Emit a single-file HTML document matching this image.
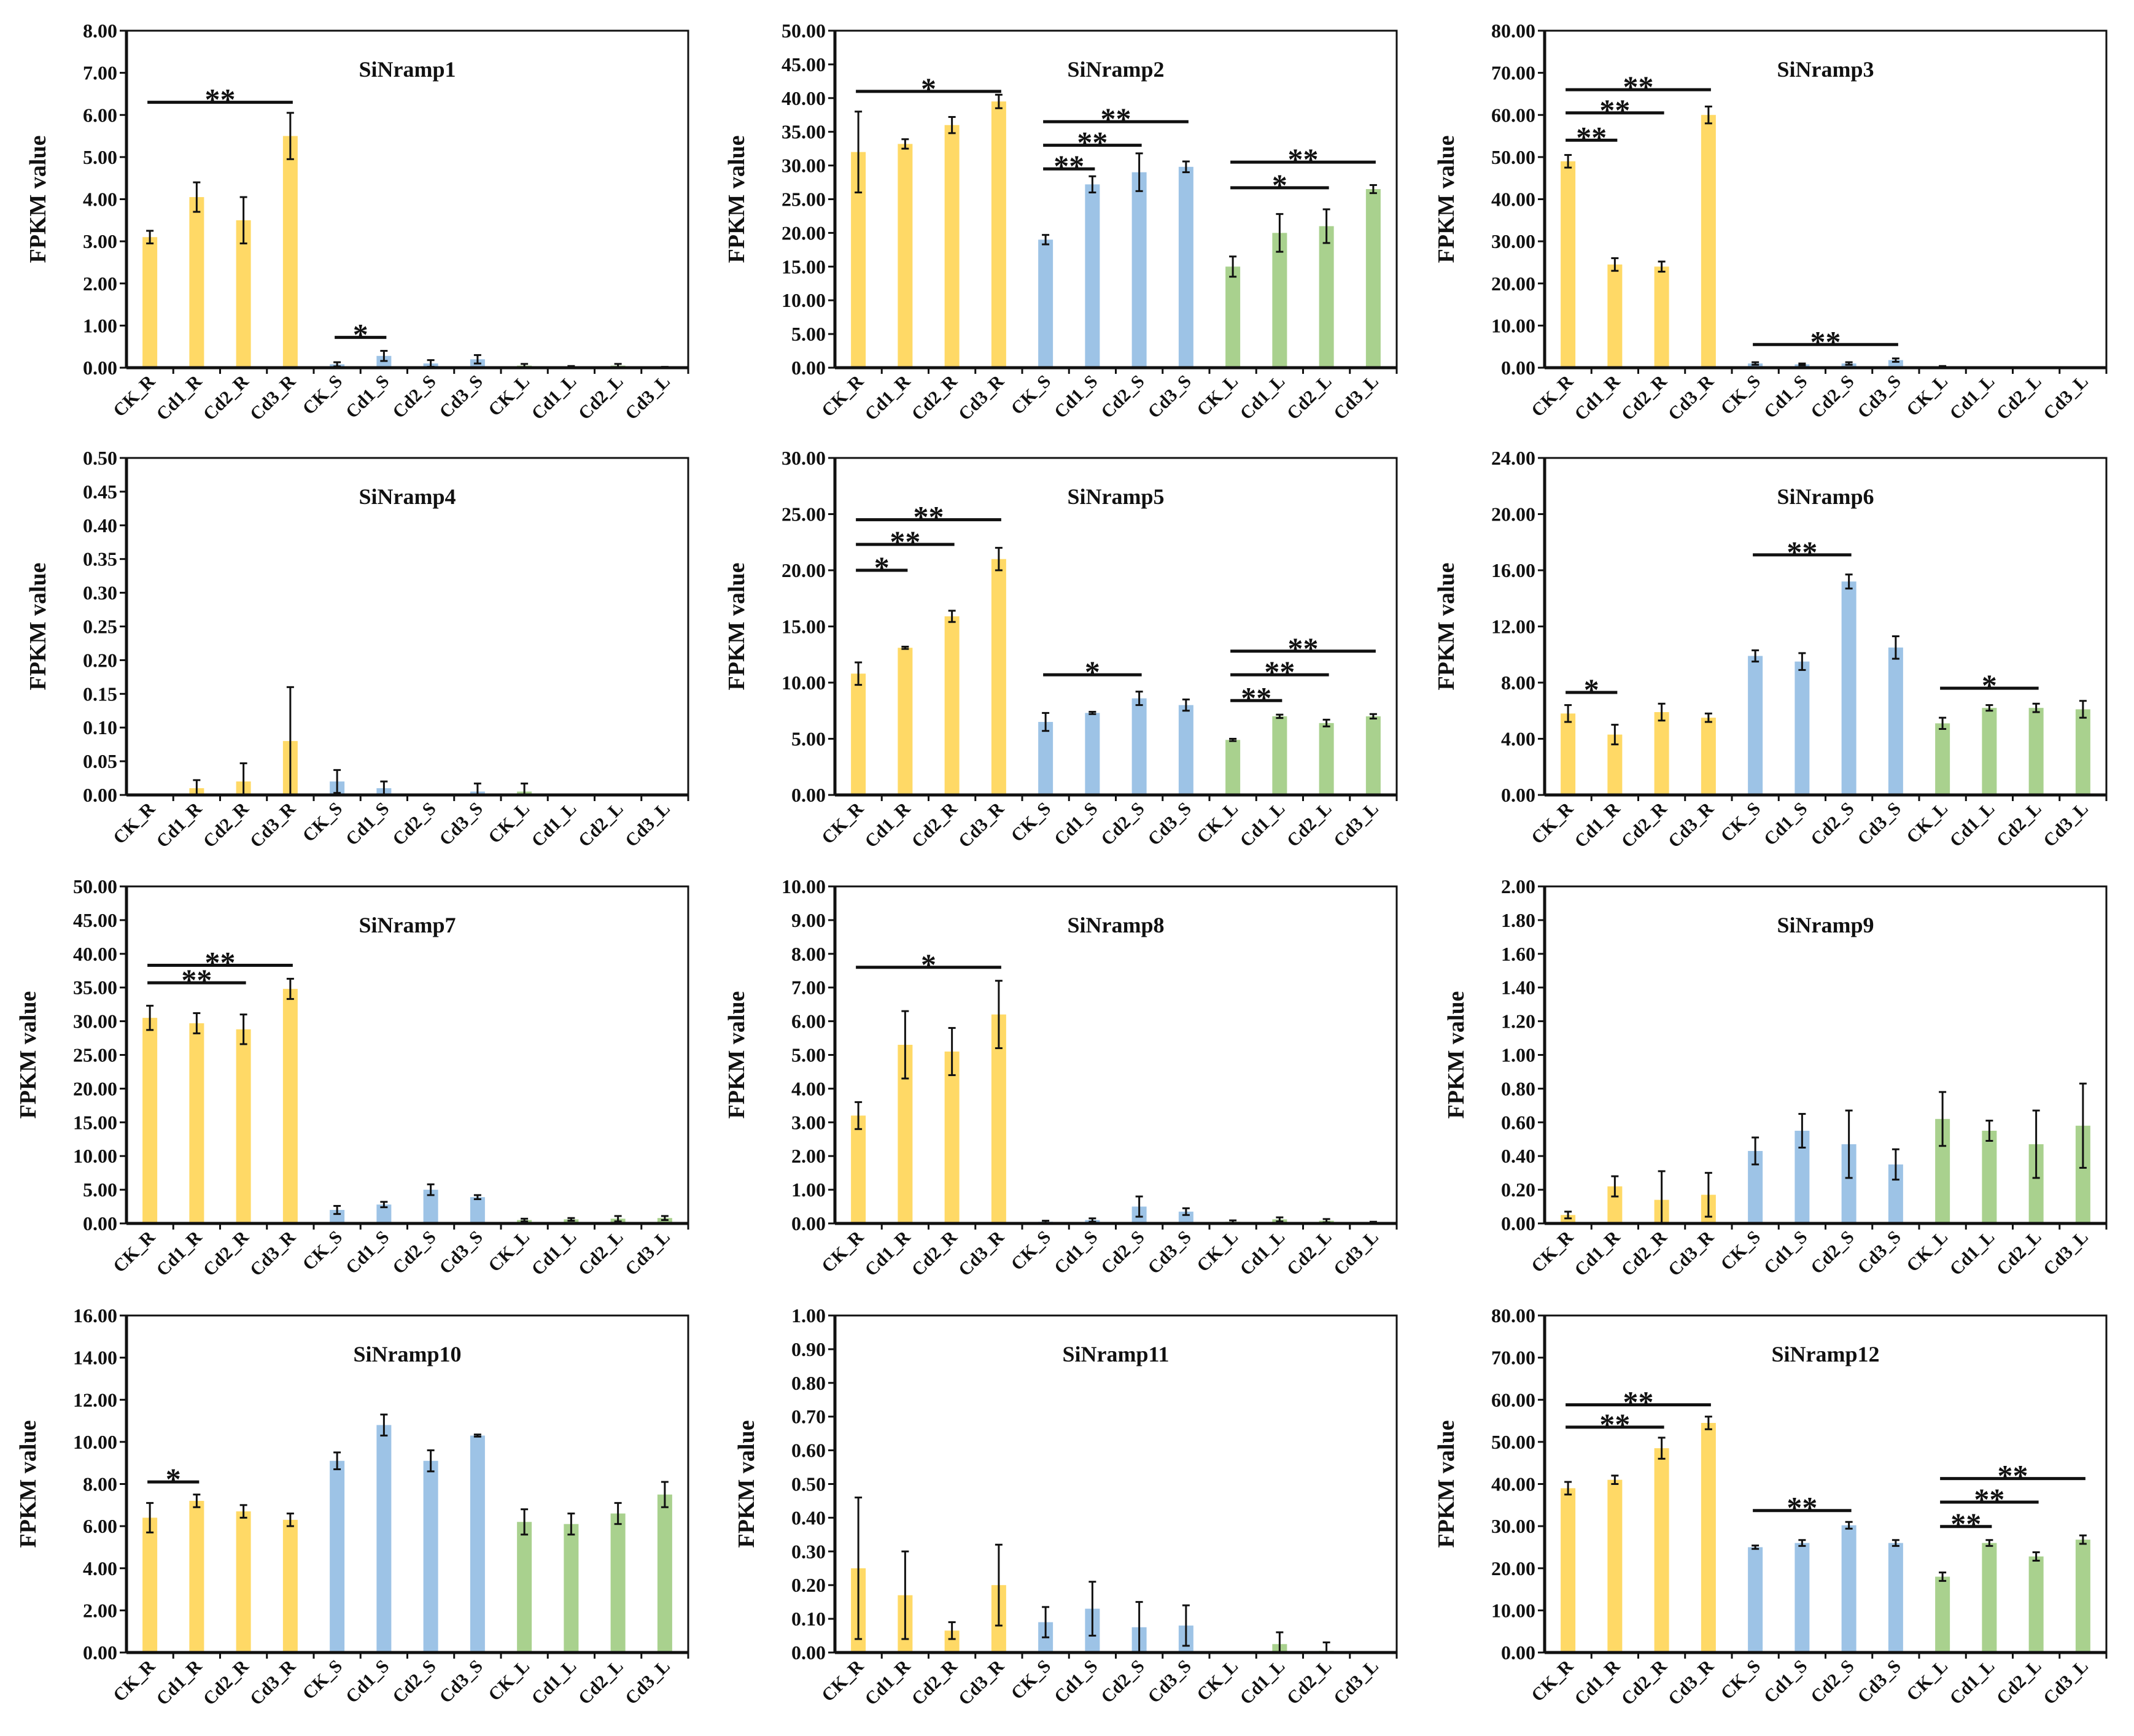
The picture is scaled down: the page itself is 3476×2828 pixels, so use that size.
<!DOCTYPE html>
<html><head><meta charset="utf-8">
<style>
html,body{margin:0;padding:0;background:#fff;}
svg{display:block;}
text{font-family:"Liberation Serif",serif;font-weight:bold;fill:#111;}
</style></head>
<body>
<svg id="fig" width="3476" height="2828" viewBox="0 0 3476 2828" xmlns="http://www.w3.org/2000/svg"></svg>
<script>
const categories = ["CK_R","Cd1_R","Cd2_R","Cd3_R","CK_S","Cd1_S","Cd2_S","Cd3_S","CK_L","Cd1_L","Cd2_L","Cd3_L"];
const titles = ["SiNramp1","SiNramp2","SiNramp3","SiNramp4","SiNramp5","SiNramp6","SiNramp7","SiNramp8","SiNramp9","SiNramp10","SiNramp11","SiNramp12"];
const yMax = [8,50,80,0.5,30,24,50,10,2,16,1,80];
const yStep = [1,5,10,0.05,5,4,5,1,0.2,2,0.1,10];
const values = [
 [3.1,4.05,3.5,5.5,0.08,0.28,0.1,0.2,0.05,0.02,0.05,0.01],
 [32,33.2,36,39.5,19,27.2,29,29.8,15,20,21,26.5],
 [49,24.5,24,60,1,0.8,1,1.8,0.3,0,0,0],
 [0,0.01,0.02,0.08,0.02,0.01,0,0.005,0.005,0,0,0],
 [10.8,13.1,15.9,21,6.5,7.3,8.6,8,4.9,7,6.4,7],
 [5.8,4.3,5.9,5.5,9.9,9.5,15.2,10.5,5.1,6.2,6.2,6.1],
 [30.5,29.7,28.8,34.8,2,2.8,5,3.9,0.5,0.6,0.7,0.8],
 [3.2,5.3,5.1,6.2,0.05,0.1,0.5,0.35,0.05,0.12,0.08,0.03],
 [0.05,0.22,0.14,0.17,0.43,0.55,0.47,0.35,0.62,0.55,0.47,0.58],
 [6.4,7.2,6.7,6.3,9.1,10.8,9.1,10.3,6.2,6.1,6.6,7.5],
 [0.25,0.17,0.065,0.2,0.09,0.13,0.075,0.08,0,0.025,0.005,0],
 [39,41,48.5,54.5,25,26,30.2,26,18,26,22.8,26.8]
];
const errors = [
 [0.15,0.35,0.55,0.55,0.05,0.12,0.08,0.1,0.04,0.02,0.04,0.01],
 [6,0.7,1.2,1,0.7,1.2,2.8,0.8,1.5,2.8,2.5,0.6],
 [1.5,1.5,1.2,2,0.3,0.2,0.3,0.4,0.1,0,0,0],
 [0,0.012,0.027,0.08,0.017,0.01,0,0.012,0.012,0,0,0],
 [1,0.1,0.5,1,0.8,0.1,0.6,0.5,0.1,0.15,0.3,0.2],
 [0.6,0.7,0.6,0.3,0.4,0.6,0.5,0.8,0.4,0.2,0.3,0.6],
 [1.8,1.5,2.2,1.5,0.6,0.4,0.8,0.3,0.2,0.2,0.4,0.3],
 [0.4,1,0.7,1,0.03,0.05,0.3,0.1,0.04,0.06,0.05,0.02],
 [0.02,0.06,0.17,0.13,0.08,0.1,0.2,0.09,0.16,0.06,0.2,0.25],
 [0.7,0.3,0.3,0.3,0.4,0.5,0.5,0.05,0.6,0.5,0.5,0.6],
 [0.21,0.13,0.025,0.12,0.045,0.08,0.075,0.06,0,0.035,0.025,0],
 [1.5,1,2.5,1.5,0.4,0.7,0.8,0.7,1,0.7,1,1]
];
// significance: [fromIndex, toIndex, label, yValue]
const sigs = [
 [[0,3,"**",6.3],[4,5,"*",0.72]],
 [[0,3,"*",41],[4,5,"**",29.5],[4,6,"**",33],[4,7,"**",36.5],[8,10,"*",26.7],[8,11,"**",30.5]],
 [[0,1,"**",54],[0,2,"**",60.5],[0,3,"**",66],[4,7,"**",5.5]],
 [],
 [[0,1,"*",20],[0,2,"**",22.3],[0,3,"**",24.5],[4,6,"*",10.7],[8,9,"**",8.4],[8,10,"**",10.7],[8,11,"**",12.8]],
 [[0,1,"*",7.3],[4,6,"**",17.1],[8,10,"*",7.6]],
 [[0,2,"**",35.7],[0,3,"**",38.3]],
 [[0,3,"*",7.6]],
 [],
 [[0,1,"*",8.1]],
 [],
 [[0,2,"**",53.5],[0,3,"**",58.8],[4,6,"**",33.7],[8,9,"**",29.9],[8,10,"**",35.7],[8,11,"**",41.3]]
];
const colors = ["#FFD966","#FFD966","#FFD966","#FFD966","#9DC3E6","#9DC3E6","#9DC3E6","#9DC3E6","#A9D18E","#A9D18E","#A9D18E","#A9D18E"];

const NS = "http://www.w3.org/2000/svg";
const svg = document.getElementById("fig");
const colLeft = [206, 1360, 2516];
const rowTop = [50, 746, 1444, 2143];
const PW = 915, PH = 549;
function mk(tag, attrs, parent){
  const e = document.createElementNS(NS, tag);
  for (const k in attrs) e.setAttribute(k, attrs[k]);
  (parent||svg).appendChild(e);
  return e;
}
for (let p = 0; p < 12; p++) {
  const L = colLeft[p % 3], T = rowTop[Math.floor(p / 3)], B = T + PH;
  const g = mk("g", {});
  
  
  const y = v => B - v / yMax[p] * PH;
  const bw = PW / 12;
  const x = i => L + bw * (i + 0.5);
  const fr = mk("rect", {x:L, y:T, width:PW, height:PH, fill:"none", stroke:"#111", "stroke-width":3}, g);
  
  
  const n = Math.round(yMax[p] / yStep[p]);
  for (let k = 0; k <= n; k++) {
    const v = k * yStep[p];
    mk("line", {x1:L-11, x2:L, y1:y(v), y2:y(v), stroke:"#111", "stroke-width":3}, g);
    const t = mk("text", {x:L-15, y:y(v)+11, "text-anchor":"end", "font-size":32}, g);
    t.textContent = v.toFixed(2);
    
    
  }
  for (let i = 0; i < 12; i++) {
    const v = values[p][i], e = errors[p][i];
    const r = mk("rect", {x:x(i)-12, y:y(v), width:24, height:Math.max(0, B - y(v)), fill:colors[i]}, g);
    
    
    if (e > 0) {
      mk("line", {x1:x(i), x2:x(i), y1:y(v+e), y2:y(Math.max(0, v-e)), stroke:"#111", "stroke-width":3}, g);
      mk("line", {x1:x(i)-6, x2:x(i)+6, y1:y(v+e), y2:y(v+e), stroke:"#111", "stroke-width":3}, g);
      mk("line", {x1:x(i)-6, x2:x(i)+6, y1:y(Math.max(0, v-e)), y2:y(Math.max(0, v-e)), stroke:"#111", "stroke-width":3}, g);
    }
    mk("line", {x1:L+bw*(i+1), x2:L+bw*(i+1), y1:B, y2:B+10, stroke:"#111", "stroke-width":3}, g);
    const tx = x(i) + 10, ty = B + 24;
    const lab = mk("text", {x:tx, y:ty, "text-anchor":"end", "font-size":30, transform:`rotate(-45 ${tx} ${ty})`}, g);
    lab.textContent = categories[i];
    
    
  }
  mk("line", {x1:L, x2:L, y1:T, y2:B+1, stroke:"#111", "stroke-width":5}, g);
  mk("line", {x1:L, x2:L+PW, y1:B, y2:B, stroke:"#111", "stroke-width":5}, g);
  for (const s of sigs[p]) {
    const x1 = x(s[0]) - 4, x2 = x(s[1]) + 4, yy = y(s[3]);
    const ln = mk("line", {x1:x1, x2:x2, y1:yy, y2:yy, stroke:"#111", "stroke-width":5}, g);
    
    
    const st = mk("text", {x:(x1+x2)/2, y:yy+12, "text-anchor":"middle", "font-size":50, "font-weight":"normal"}, g);
    st.textContent = s[2];
    
    
  }
  const ti = mk("text", {x:L+PW/2, y:T+75, "text-anchor":"middle", "font-size":36}, g);
  ti.textContent = titles[p];
  
  
  const labW = yMax[p] >= 10 ? 100 : 84;
  const ax = L - labW - 48, ay = T + PH/2;
  const yt = mk("text", {x:ax, y:ay, "text-anchor":"middle", "font-size":38, transform:`rotate(-90 ${ax} ${ay})`}, g);
  yt.textContent = "FPKM value";
  
  
}
</script>
</body></html>
